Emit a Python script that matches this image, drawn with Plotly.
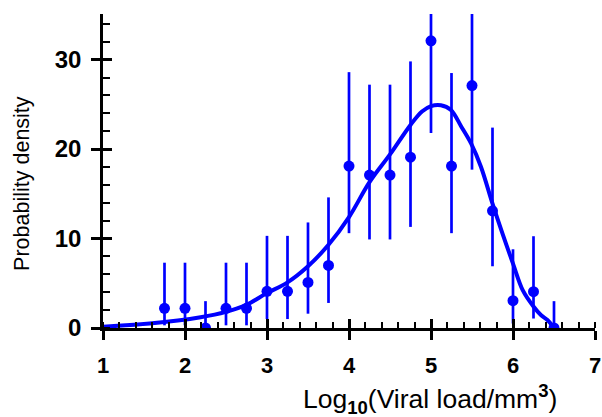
import plotly.graph_objects as go

# Binned data points (log10 viral load, probability density) with asymmetric error bars
x_pts = [1.75, 2.0, 2.25, 2.5, 2.75, 3.0, 3.25, 3.5, 3.75, 4.0,
         4.25, 4.5, 4.75, 5.0, 5.25, 5.5, 5.75, 6.0, 6.25, 6.5]
y_pts = [2.2, 2.2, 0.0, 2.2, 2.2, 4.1, 4.1, 5.1, 7.0, 18.1,
         17.1, 17.1, 19.1, 32.1, 18.1, 27.1, 13.1, 3.05, 4.06, 0.0]
err_plus = [5.1, 5.1, 3.0, 5.1, 5.1, 6.2, 6.2, 6.7, 7.6, 10.5,
            10.1, 10.1, 10.7, 12.0, 10.4, 11.5, 9.3, 5.75, 6.2, 3.0]
err_minus = [1.9, 1.9, 0.0, 1.9, 1.9, 3.1, 3.1, 3.5, 4.2, 7.5,
             7.2, 7.2, 7.8, 10.3, 7.5, 9.4, 6.2, 2.55, 3.0, 0.0]

# Fitted density curve
x_fit = [1.0, 1.57, 2.19, 2.5, 2.75, 3.0, 3.25, 3.5, 3.75, 4.0, 4.25, 4.5,
         4.75, 4.89, 5.0, 5.12, 5.24, 5.37, 5.49, 5.61, 5.75, 5.87, 6.0,
         6.12, 6.25, 6.34, 6.42, 6.49]
y_fit = [0.15, 0.5, 1.2, 1.8, 2.6, 3.9, 5.1, 6.9, 9.3, 12.4, 16.3, 19.4,
         22.7, 24.2, 24.8, 24.9, 24.4, 22.5, 20.6, 18.0, 13.9, 10.6, 7.2,
         4.2, 2.4, 1.45, 0.9, 0.15]

x_ticks = [1, 2, 3, 4, 5, 6, 7]
y_ticks = [0, 10, 20, 30]

BLUE = "#0000FF"
FONT = "Liberation Sans, Arial, sans-serif"

fig = go.Figure()
fig.add_trace(go.Scatter(
    x=x_fit, y=y_fit, mode="lines", line=dict(color=BLUE, width=4, shape="spline"),
    hoverinfo="skip", showlegend=False))
fig.add_trace(go.Scatter(
    x=x_pts, y=y_pts, mode="markers",
    marker=dict(color=BLUE, size=11),
    error_y=dict(type="data", symmetric=False, array=err_plus, arrayminus=err_minus,
                 color=BLUE, thickness=2.7, width=0),
    showlegend=False))

axis_common = dict(showline=True, linecolor="black", linewidth=2.5, showgrid=False,
                   zeroline=False, tickcolor="black", tickwidth=2.5, automargin=False,
                   tickmode="array")

fig.update_layout(
    width=602, height=417,
    margin=dict(l=103, r=7, t=14, b=89),
    plot_bgcolor="white", paper_bgcolor="white",
    font=dict(family=FONT, color="black"),
    xaxis=dict(range=[1, 7], tickvals=x_ticks,
               ticktext=["<b>%d</b>" % v for v in x_ticks],
               ticks="outside", ticklen=9,
               tickfont=dict(size=22, family=FONT, color="black"),
               ticklabelstandoff=7,
               minor=dict(ticks="inside", dtick=0.2, ticklen=6, tickwidth=2, tickcolor="black"),
               **axis_common),
    yaxis=dict(range=[0, 35.1], tickvals=y_ticks,
               ticktext=["<b>%d</b>" % v for v in y_ticks],
               ticks="outside", ticklen=9,
               tickfont=dict(size=24, family=FONT, color="black"),
               ticklabelstandoff=5,
               minor=dict(ticks="inside", dtick=2, ticklen=7, tickwidth=2, tickcolor="black"),
               **axis_common),
    xaxis2=dict(overlaying="x", matches="x", anchor="y", side="bottom",
                tickvals=x_ticks, ticks="inside", ticklen=9, tickwidth=2.5, tickcolor="black",
                showticklabels=False, showline=False, showgrid=False, zeroline=False),
    yaxis2=dict(overlaying="y", matches="y", anchor="x", side="left",
                tickvals=y_ticks, ticks="inside", ticklen=9, tickwidth=2.5, tickcolor="black",
                showticklabels=False, showline=False, showgrid=False, zeroline=False),
    annotations=[
        dict(text="Log<sub><b>10</b></sub>(Viral load/mm<sup><b>3</b></sup>)",
             xref="paper", yref="paper", x=0.664, y=-0.226, xanchor="center", yanchor="middle",
             showarrow=False, font=dict(size=26.5, family=FONT)),
        dict(text="Probability density", textangle=-90,
             xref="paper", yref="paper", x=-0.166, y=0.46, xanchor="center", yanchor="middle",
             showarrow=False, font=dict(size=21.5, family=FONT)),
    ],
)

# invisible helper trace so the overlay tick axes are drawn
fig.add_trace(go.Scatter(x=[None], y=[None], xaxis="x2", yaxis="y2",
                         showlegend=False, hoverinfo="skip"))

fig.write_html("out.html", config={"displayModeBar": False},
               post_script="document.body.style.margin='0';document.body.style.overflow='hidden';")
